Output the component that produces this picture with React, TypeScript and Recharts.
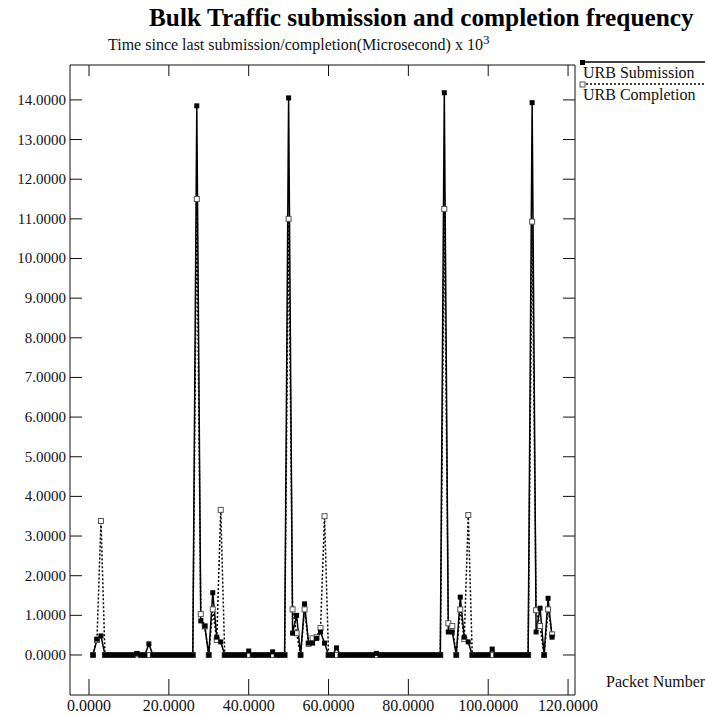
import { LineChart, Line, XAxis, YAxis } from "recharts";

const X_TICKS = [0, 20, 40, 60, 80, 100, 120];
const Y_TICKS = [0, 1, 2, 3, 4, 5, 6, 7, 8, 9, 10, 11, 12, 13, 14];

// time since last submission per packet (packet 1..116), x 10^3 us
const URB_SUBMISSION = [
  0, 0.4, 0.48, 0, 0, 0, 0, 0, 0, 0,
  0, 0.04, 0, 0, 0.28, 0, 0, 0, 0, 0,
  0, 0, 0, 0, 0, 0, 13.85, 0.86, 0.73, 0,
  1.57, 0.45, 0.33, 0, 0, 0, 0, 0, 0, 0.1,
  0, 0, 0, 0, 0, 0.08, 0, 0, 0, 14.05,
  0.55, 1.0, 0, 1.29, 0.3, 0.3, 0.42, 0.58, 0.3, 0,
  0, 0.18, 0, 0, 0, 0, 0, 0, 0, 0,
  0, 0.04, 0, 0, 0, 0, 0, 0, 0, 0,
  0, 0, 0, 0, 0, 0, 0, 0, 14.18, 0.58,
  0.58, 0, 1.46, 0.45, 0.33, 0, 0, 0, 0, 0,
  0.15, 0, 0, 0, 0, 0, 0, 0, 0, 0,
  13.93, 0.58, 1.18, 0, 1.43, 0.45,
];

// time since last completion per packet
const URB_COMPLETION = [
  0, 0.38, 3.38, 0, 0, 0, 0, 0, 0, 0,
  0, 0.02, 0, 0, 0, 0, 0, 0, 0, 0,
  0, 0, 0, 0, 0, 0, 11.5, 1.03, 0.72, 0,
  1.15, 0.38, 3.66, 0, 0, 0, 0, 0, 0, 0,
  0, 0, 0, 0, 0, 0, 0, 0, 0, 11.0,
  1.15, 0.55, 0, 1.15, 0.28, 0.42, 0.45, 0.68, 3.5, 0,
  0, 0, 0, 0, 0, 0, 0, 0, 0, 0,
  0, 0, 0, 0, 0, 0, 0, 0, 0, 0,
  0, 0, 0, 0, 0, 0, 0, 0, 11.25, 0.8,
  0.73, 0, 1.15, 0.4, 3.53, 0, 0, 0, 0, 0,
  0, 0, 0, 0, 0, 0, 0, 0, 0, 0,
  10.93, 1.13, 0.73, 0, 1.15, 0.52,
];

const data = URB_SUBMISSION.map((v, i) => ({
  packet: i + 1,
  submission: v,
  completion: URB_COMPLETION[i],
}));

const FONT = "'Liberation Serif', 'DejaVu Serif', serif";
const INK = "#111";
const fmt = (v: number) => v.toFixed(4);

function FilledSquare(props: any) {
  const { cx, cy } = props;
  if (cx == null || cy == null) return null;
  return <rect x={cx - 2.5} y={cy - 2.5} width={5} height={5} fill="#000" />;
}

function OpenSquare(props: any) {
  const { cx, cy } = props;
  if (cx == null || cy == null) return null;
  return (
    <rect x={cx - 2.5} y={cy - 2.5} width={5} height={5} fill="#fff" stroke="#555" strokeWidth={1} />
  );
}

function BottomTick({ x, y, payload }: any) {
  return (
    <g>
      <line x1={x} y1={y} x2={x} y2={y - 16} stroke={INK} />
      <text x={x} y={y + 10} textAnchor="middle" dominantBaseline="central" fontSize={16} fontFamily={FONT} fill={INK}>
        {fmt(payload.value)}
      </text>
    </g>
  );
}

function TopTick({ x, y }: any) {
  return <line x1={x} y1={y} x2={x} y2={y + 11} stroke={INK} />;
}

function LeftTick({ x, y, payload }: any) {
  return (
    <g>
      <line x1={x} y1={y} x2={x + 12} y2={y} stroke={INK} />
      <text x={x - 4} y={y} textAnchor="end" dominantBaseline="central" fontSize={15} fontFamily={FONT} fill={INK}>
        {fmt(payload.value)}
      </text>
    </g>
  );
}

function RightTick({ x, y }: any) {
  return <line x1={x} y1={y} x2={x - 12} y2={y} stroke={INK} />;
}

export default function App() {
  return (
    <div style={{ position: "absolute", left: 0, top: 0, width: 705, height: 715, background: "#fff", fontFamily: FONT }}>
      <div style={{ position: "absolute", left: 149, top: 3, fontSize: 25.3, fontWeight: "bold", color: "#000", whiteSpace: "nowrap" }}>
        Bulk Traffic submission and completion frequency
      </div>
      <div style={{ position: "absolute", left: 108, top: 32, fontSize: 16, color: INK, whiteSpace: "nowrap" }}>
        Time since last submission/completion(Microsecond) x 10<sup style={{ fontSize: 13 }}>3</sup>
      </div>
      <div style={{ position: "absolute", left: 606, top: 673, fontSize: 16, color: INK, whiteSpace: "nowrap" }}>
        Packet Number
      </div>
      <svg width={125} height={44} style={{ position: "absolute", left: 580, top: 60, overflow: "visible" }}>
        <line x1={2} y1={2} x2={125} y2={2} stroke="#000" strokeWidth={1.5} />
        <rect x={0} y={0} width={5} height={5} fill="#000" />
        <text x={3} y={12} dominantBaseline="central" fontSize={16} fontFamily={FONT} fill={INK}>
          URB Submission
        </text>
        <line x1={2} y1={24} x2={125} y2={24} stroke="#000" strokeWidth={1.5} strokeDasharray="2 2" />
        <rect x={0} y={22} width={5} height={5} fill="#fff" stroke="#555" />
        <text x={3} y={34} dominantBaseline="central" fontSize={16} fontFamily={FONT} fill={INK}>
          URB Completion
        </text>
      </svg>
      <LineChart width={705} height={715} data={data} margin={{ top: 64, right: 129, left: 0, bottom: 0 }}>
        <XAxis
          xAxisId="bottom"
          dataKey="packet"
          type="number"
          domain={[-4.76, 121.74]}
          allowDataOverflow
          ticks={X_TICKS}
          interval={0}
          height={20}
          tickSize={0}
          tickMargin={0}
          tick={<BottomTick />}
          axisLine={{ stroke: INK }}
        />
        <XAxis
          xAxisId="top"
          orientation="top"
          dataKey="packet"
          type="number"
          domain={[-4.76, 121.74]}
          allowDataOverflow
          ticks={X_TICKS}
          interval={0}
          height={1}
          tickSize={0}
          tickMargin={0}
          tick={<TopTick />}
          axisLine={{ stroke: INK }}
        />
        <YAxis
          yAxisId="left"
          type="number"
          domain={[-1.009, 14.88]}
          allowDataOverflow
          ticks={Y_TICKS}
          interval={0}
          width={70}
          tickSize={0}
          tickMargin={0}
          tick={<LeftTick />}
          axisLine={{ stroke: INK }}
        />
        <YAxis
          yAxisId="right"
          orientation="right"
          type="number"
          domain={[-1.009, 14.88]}
          allowDataOverflow
          ticks={Y_TICKS}
          interval={0}
          width={1}
          tickSize={0}
          tickMargin={0}
          tick={<RightTick />}
          axisLine={{ stroke: INK }}
        />
        <Line
          xAxisId="bottom"
          yAxisId="left"
          dataKey="completion"
          name="URB Completion"
          type="linear"
          stroke="#000"
          strokeWidth={1.5}
          strokeDasharray="2 2"
          dot={<OpenSquare />}
          activeDot={false}
          isAnimationActive={false}
        />
        <Line
          xAxisId="bottom"
          yAxisId="left"
          dataKey="submission"
          name="URB Submission"
          type="linear"
          stroke="#000"
          strokeWidth={1.5}
          dot={<FilledSquare />}
          activeDot={false}
          isAnimationActive={false}
        />
      </LineChart>
    </div>
  );
}
